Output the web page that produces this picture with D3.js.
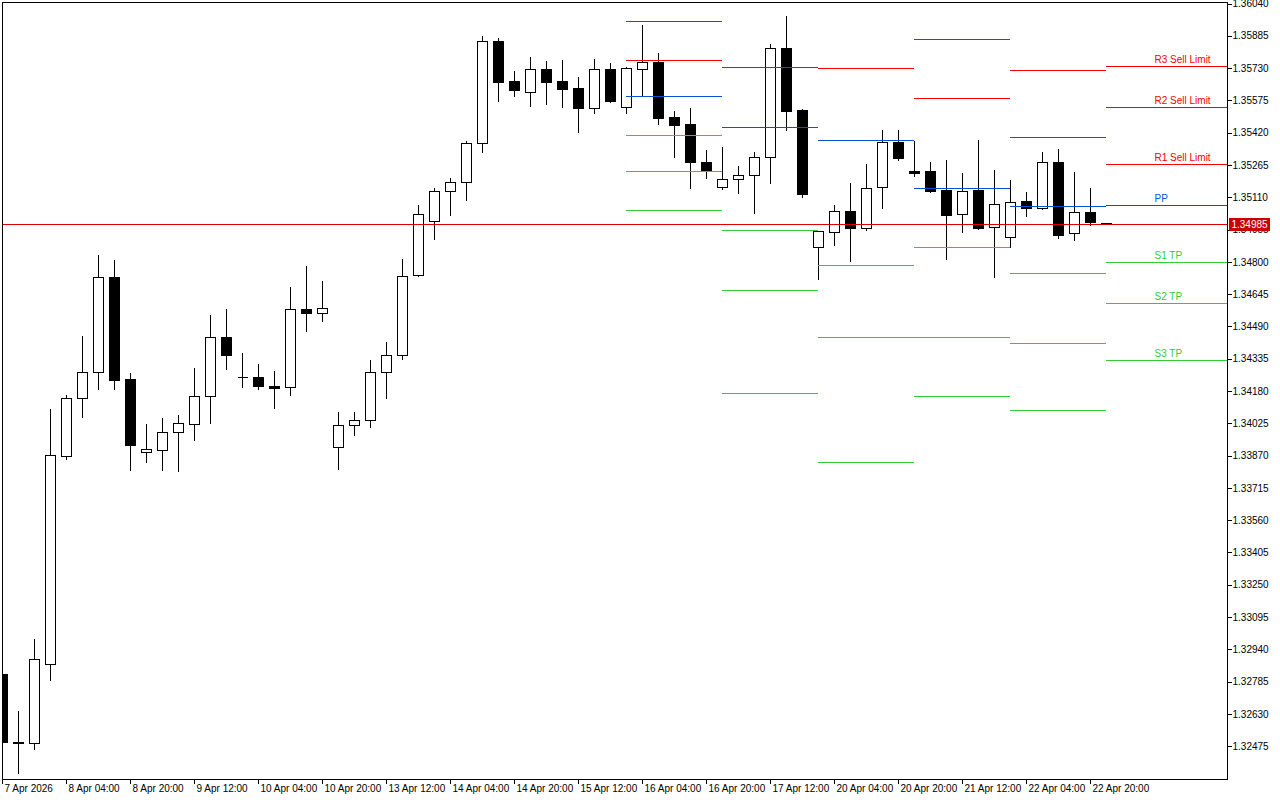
<!DOCTYPE html>
<html>
<head>
<meta charset="utf-8">
<script src="https://cdn.jsdelivr.net/npm/d3@7"></script>
<style>
  html, body { margin: 0; padding: 0; background: #fff; }
  svg { display: block; font-family: "Liberation Sans", Arial, sans-serif; }
</style>
</head>
<body>
<svg id="chart" width="1280" height="800"></svg>
<script>
// H4 candles, 7 Apr 12:00 .. 23 Apr 00:00
var opens = [1.32822, 1.32497, 1.32491, 1.32873, 1.33871, 1.34149, 1.34272, 1.34730, 1.34239, 1.33891,
  1.33901, 1.33984, 1.34025, 1.34157, 1.34440, 1.34249, 1.34250, 1.34206, 1.34200, 1.34575,
  1.34555, 1.33912, 1.34018, 1.34042, 1.34272, 1.34354, 1.34739, 1.34997, 1.35141, 1.35184,
  1.35371, 1.35861, 1.35669, 1.35616, 1.35727, 1.35669, 1.35635, 1.35542, 1.35727, 1.35547,
  1.35729, 1.35762, 1.35498, 1.35464, 1.35282, 1.35160, 1.35199, 1.35218, 1.35304, 1.35827,
  1.35531, 1.34872, 1.34947, 1.35045, 1.34966, 1.35160, 1.35376, 1.35238, 1.35238, 1.35147,
  1.35031, 1.35147, 1.34968, 1.34920, 1.35094, 1.35062, 1.35280, 1.34939, 1.35040, 1.34990];
var highs = [1.32824, 1.32653, 1.32999, 1.34099, 1.34168, 1.34452, 1.34840, 1.34816, 1.34274, 1.34029,
  1.34058, 1.34072, 1.34298, 1.34552, 1.34579, 1.34370, 1.34317, 1.34283, 1.34686, 1.34787,
  1.34715, 1.34086, 1.34086, 1.34336, 1.34422, 1.34819, 1.35080, 1.35160, 1.35210, 1.35387,
  1.35891, 1.35882, 1.35723, 1.35790, 1.35771, 1.35776, 1.35694, 1.35781, 1.35762, 1.35742,
  1.35944, 1.35810, 1.35531, 1.35546, 1.35344, 1.35358, 1.35267, 1.35334, 1.35851, 1.35987,
  1.35539, 1.34955, 1.35080, 1.35186, 1.35277, 1.35440, 1.35440, 1.35386, 1.35286, 1.35296,
  1.35234, 1.35392, 1.35248, 1.35200, 1.35142, 1.35334, 1.35349, 1.35238, 1.35162, 1.34990];
var lows = [1.32493, 1.32347, 1.32463, 1.32794, 1.33856, 1.34058, 1.34192, 1.34192, 1.33803, 1.33842,
  1.33803, 1.33798, 1.33947, 1.34030, 1.34289, 1.34203, 1.34193, 1.34102, 1.34165, 1.34472,
  1.34520, 1.33807, 1.33973, 1.34011, 1.34150, 1.34337, 1.34734, 1.34913, 1.35029, 1.35101,
  1.35331, 1.35576, 1.35600, 1.35552, 1.35561, 1.35547, 1.35427, 1.35518, 1.35571, 1.35518,
  1.35603, 1.35465, 1.35307, 1.35158, 1.35206, 1.35153, 1.35134, 1.35038, 1.35182, 1.35437,
  1.35115, 1.34721, 1.34883, 1.34808, 1.34957, 1.35062, 1.35293, 1.35216, 1.35139, 1.34817,
  1.34947, 1.34961, 1.34731, 1.34874, 1.35024, 1.35057, 1.34918, 1.34909, 1.34981, 1.34982];
var closes = [1.32496, 1.32495, 1.32896, 1.33873, 1.34151, 1.34274, 1.34730, 1.34235, 1.33924, 1.33903,
  1.33984, 1.34029, 1.34158, 1.34440, 1.34357, 1.34249, 1.34208, 1.34198, 1.34575, 1.34555,
  1.34579, 1.34018, 1.34042, 1.34272, 1.34354, 1.34733, 1.35031, 1.35141, 1.35184, 1.35371,
  1.35861, 1.35667, 1.35629, 1.35727, 1.35667, 1.35633, 1.35542, 1.35727, 1.35576, 1.35731,
  1.35760, 1.35494, 1.35461, 1.35282, 1.35238, 1.35199, 1.35218, 1.35304, 1.35827, 1.35528,
  1.35129, 1.34949, 1.35045, 1.34966, 1.35155, 1.35376, 1.35302, 1.35231, 1.35144, 1.35029,
  1.35141, 1.34966, 1.35079, 1.35088, 1.35062, 1.35280, 1.34933, 1.35040, 1.34995, 1.34985];

var lastPrice = 1.34985;

// daily pivot levels, each starting at the first H4 bar of the day
var dayStart = [39, 45, 51, 57, 63, 69];
var r3 = [1.36130, 1.36520, 1.36678, 1.36306, 1.36053, 1.35742];
var r2 = [1.35957, 1.36232, 1.36333, 1.35873, 1.35722, 1.35546];
var r1 = [1.35770, 1.35736, 1.35731, 1.35587, 1.35400, 1.35271];
var pp = [1.35597, 1.35448, 1.35386, 1.35155, 1.35069, 1.35074];
var s1 = [1.35410, 1.34955, 1.34786, 1.34872, 1.34747, 1.34800];
var s2 = [1.35237, 1.34667, 1.34440, 1.34440, 1.34411, 1.34603];
var s3 = [1.35050, 1.34171, 1.33840, 1.34157, 1.34090, 1.34330];
var levelNames = ["R3 Sell Limit", "R2 Sell Limit", "R1 Sell Limit", "PP", "S1 TP", "S2 TP", "S3 TP"];

var priceTicks = [1.36040, 1.35885, 1.35730, 1.35575, 1.35420, 1.35265, 1.35110, 1.34955,
  1.34800, 1.34645, 1.34490, 1.34335, 1.34180, 1.34025, 1.33870, 1.33715, 1.33560, 1.33405,
  1.33250, 1.33095, 1.32940, 1.32785, 1.32630, 1.32475];
var timeLabels = ["7 Apr 2026", "8 Apr 04:00", "8 Apr 20:00", "9 Apr 12:00", "10 Apr 04:00",
  "10 Apr 20:00", "13 Apr 12:00", "14 Apr 04:00", "14 Apr 20:00", "15 Apr 12:00", "16 Apr 04:00",
  "16 Apr 20:00", "17 Apr 12:00", "20 Apr 04:00", "20 Apr 20:00", "21 Apr 12:00", "22 Apr 04:00",
  "22 Apr 20:00"];
var labelEvery = 4;

var svg = d3.select("#chart");
var plotLeft = 2, plotTop = 2, plotRight = 1227, plotBottom = 779;

var x = d3.scaleLinear().domain([0, opens.length - 1]).range([2.5, 2.5 + 16 * (opens.length - 1)]);
var y = d3.scaleLinear()
  .domain([priceTicks[priceTicks.length - 1], priceTicks[0]])
  .range([746.7, 4]);

function py(v) { return Math.round(y(v)) + 0.5; }

svg.append("defs").append("clipPath").attr("id", "plotClip")
  .append("rect")
  .attr("x", plotLeft + 1).attr("y", plotTop + 1)
  .attr("width", plotRight - plotLeft - 1).attr("height", plotBottom - plotTop - 1);

var candles = opens.map(function(o, i) {
  return { i: i, o: o, h: highs[i], l: lows[i], c: closes[i] };
});

var chartG = svg.append("g").attr("clip-path", "url(#plotClip)").attr("shape-rendering", "crispEdges");

// candles
var cg = chartG.selectAll(".candle").data(candles).enter().append("g").attr("class", "candle");
cg.append("line")
  .attr("x1", function(d) { return x(d.i); })
  .attr("x2", function(d) { return x(d.i); })
  .attr("y1", function(d) { return py(d.h); })
  .attr("y2", function(d) { return py(d.l); })
  .attr("stroke", "#000");
cg.each(function(d) {
  var g = d3.select(this);
  var top = py(Math.max(d.o, d.c)), bot = py(Math.min(d.o, d.c));
  if (bot - top < 1) {
    g.append("line")
      .attr("x1", x(d.i) - 5).attr("x2", x(d.i) + 5)
      .attr("y1", top).attr("y2", top)
      .attr("stroke", "#000");
  } else {
    g.append("rect")
      .attr("x", x(d.i) - 5).attr("width", 10)
      .attr("y", top).attr("height", bot - top)
      .attr("fill", d.c < d.o ? "#000" : "#fff")
      .attr("stroke", "#000");
  }
});

// pivot segments
var levels = [
  { vals: r3, color: "#ff0000" }, { vals: r2, color: "#ff0000" }, { vals: r1, color: "#ff0000" },
  { vals: pp, color: "#0a4fd8" },
  { vals: s1, color: "#32cd32" }, { vals: s2, color: "#32cd32" }, { vals: s3, color: "#32cd32" }
];
levels.forEach(function(lv, k) {
  dayStart.forEach(function(s, j) {
    var xa = x(s) - 0.5;
    var xb = j < dayStart.length - 1 ? x(dayStart[j + 1]) - 0.5 : plotRight;
    chartG.append("line")
      .attr("x1", xa).attr("x2", xb)
      .attr("y1", py(lv.vals[j])).attr("y2", py(lv.vals[j]))
      .attr("stroke", lv.color);
  });
  var last = dayStart.length - 1;
  svg.append("text")
    .attr("x", x(dayStart[last] + 3))
    .attr("y", py(lv.vals[last]) - 3.5)
    .attr("fill", lv.color)
    .attr("font-size", "10px")
    .text(levelNames[k]);
});

// current price line
chartG.append("line")
  .attr("x1", plotLeft).attr("x2", plotRight)
  .attr("y1", py(lastPrice)).attr("y2", py(lastPrice))
  .attr("stroke", "#dd0000");

// frame
svg.append("rect")
  .attr("x", plotLeft + 0.5).attr("y", plotTop + 0.5)
  .attr("width", plotRight - plotLeft).attr("height", plotBottom - plotTop)
  .attr("fill", "none").attr("stroke", "#000").attr("shape-rendering", "crispEdges");

// price axis
var yAxis = d3.axisRight(y).tickValues(priceTicks).tickSize(4).tickSizeOuter(0)
  .tickFormat(d3.format(".5f")).offset(0);
var yg = svg.append("g").attr("transform", "translate(" + (plotRight + 0.5) + ",0)").call(yAxis);
yg.select(".domain").remove();
yg.selectAll("line").attr("shape-rendering", "crispEdges");
yg.selectAll("text").attr("x", 5).attr("font-size", "10px").attr("font-family", "Liberation Sans, Arial, sans-serif").attr("fill", "#000");

// time axis
var xAxis = d3.axisBottom(x)
  .tickValues(timeLabels.map(function(t, k) { return k * labelEvery; }))
  .tickFormat(function(d, k) { return timeLabels[k]; })
  .tickSize(4).tickSizeOuter(0).offset(0);
var xg = svg.append("g").attr("transform", "translate(0," + (plotBottom + 0.5) + ")").call(xAxis);
xg.select(".domain").remove();
xg.selectAll("line").attr("shape-rendering", "crispEdges");
xg.selectAll("text").attr("text-anchor", "start").attr("x", 2).attr("y", 5)
  .attr("font-size", "10px").attr("font-family", "Liberation Sans, Arial, sans-serif").attr("fill", "#000");

// last price tag
var tagY = Math.round(y(lastPrice));
svg.append("rect")
  .attr("x", plotRight + 2).attr("y", tagY - 6)
  .attr("width", 41).attr("height", 13)
  .attr("fill", "#c80000");
svg.append("text")
  .attr("x", plotRight + 22.5).attr("y", tagY + 0.5)
  .attr("dy", "0.35em").attr("text-anchor", "middle")
  .attr("fill", "#fff").attr("font-size", "10px")
  .text(d3.format(".5f")(lastPrice));
</script>
</body>
</html>
